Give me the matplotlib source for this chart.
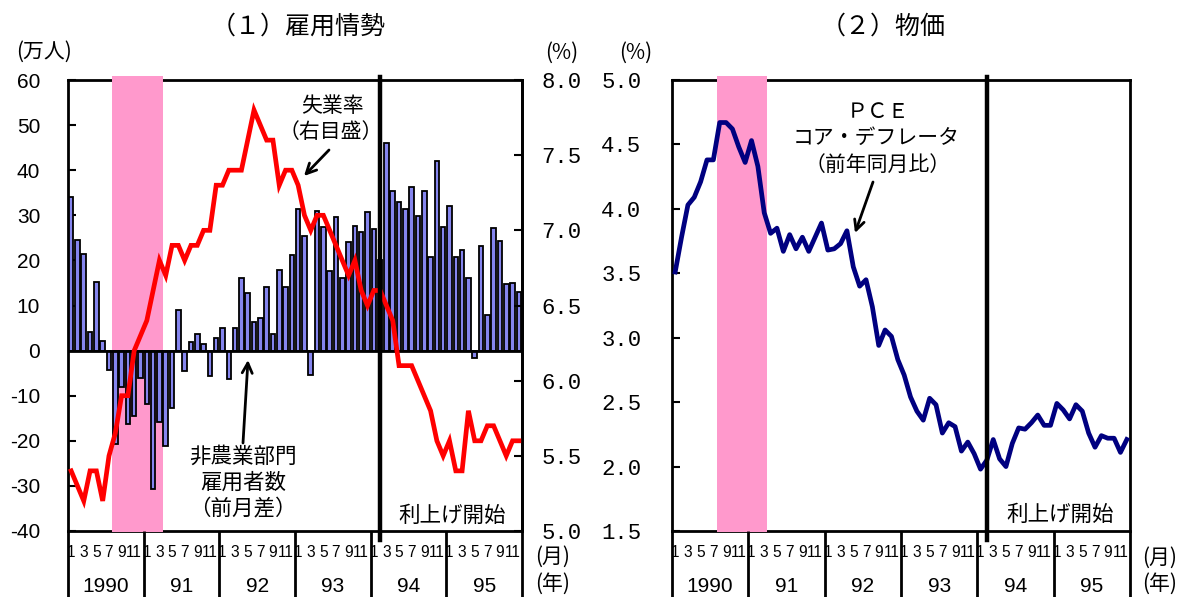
import matplotlib
matplotlib.use("Agg")
import matplotlib.pyplot as plt
from matplotlib import font_manager
from matplotlib.transforms import blended_transform_factory as btf

plt.rcParams['axes.unicode_minus'] = False
_names = {f.name for f in font_manager.fontManager.ttflist}
SANS = 'Liberation Sans' if 'Liberation Sans' in _names else 'DejaVu Sans'
MONO = 'Liberation Mono' if 'Liberation Mono' in _names else 'DejaVu Sans Mono'
JP = ['Noto Sans CJK JP', 'DejaVu Sans']

# ---------------- data ----------------
years = ['1990', '91', '92', '93', '94', '95']
month_labels = ['1', '3', '5', '7', '9', '11']

# Non-farm payroll change (10k persons), Jan 1990 - Dec 1995
payroll = [34.0, 24.5, 21.5, 4.2, 15.2, 2.1, -4.2, -20.7, -8.1, -16.3, -14.4, -6.1,
           -11.9, -30.6, -15.9, -21.1, -12.8, 9.1, -4.6, 1.8, 3.6, 1.5, -5.7, 2.7,
           5.1, -6.3, 5.1, 16.1, 12.7, 6.3, 7.3, 14.2, 3.6, 17.9, 14.2, 21.3,
           31.4, 25.5, -5.3, 31.0, 27.5, 17.6, 29.7, 16.2, 24.1, 27.7, 26.2, 30.8,
           26.9, 20.0, 46.0, 35.4, 33.0, 31.4, 36.3, 29.9, 35.4, 20.7, 42.1, 27.5,
           32.0, 20.8, 22.3, 16.0, -1.7, 23.3, 7.9, 27.2, 24.4, 14.7, 15.0, 13.1]

# Unemployment rate (%), right scale
unemployment = [5.4, 5.3, 5.2, 5.4, 5.4, 5.2, 5.5, 5.65, 5.9, 5.9, 6.2, 6.3,
                6.4, 6.6, 6.8, 6.7, 6.9, 6.9, 6.8, 6.9, 6.9, 7.0, 7.0, 7.3,
                7.3, 7.4, 7.4, 7.4, 7.6, 7.8, 7.7, 7.6, 7.6, 7.3, 7.4, 7.4,
                7.3, 7.1, 7.0, 7.1, 7.1, 7.0, 6.9, 6.8, 6.7, 6.8, 6.6, 6.5,
                6.6, 6.6, 6.5, 6.4, 6.1, 6.1, 6.1, 6.0, 5.9, 5.8, 5.6, 5.5,
                5.6, 5.4, 5.4, 5.8, 5.6, 5.6, 5.7, 5.7, 5.6, 5.5, 5.6, 5.6]

# PCE core deflator (yoy, %)
pce_core = [3.51, 3.78, 4.03, 4.09, 4.21, 4.38, 4.38, 4.67, 4.67, 4.62, 4.48, 4.36,
            4.53, 4.33, 3.97, 3.81, 3.85, 3.67, 3.80, 3.69, 3.78, 3.67, 3.78, 3.89,
            3.68, 3.69, 3.73, 3.83, 3.55, 3.40, 3.45, 3.24, 2.94, 3.06, 3.01, 2.83,
            2.71, 2.54, 2.43, 2.36, 2.53, 2.48, 2.26, 2.34, 2.31, 2.12, 2.19, 2.10,
            1.98, 2.05, 2.21, 2.06, 2.00, 2.18, 2.30, 2.29, 2.34, 2.40, 2.32, 2.32,
            2.49, 2.44, 2.37, 2.48, 2.43, 2.26, 2.15, 2.24, 2.22, 2.22, 2.11, 2.21]

months = list(range(len(payroll)))
recession = (6.5, 14.5)     # Aug 1990 - Mar 1991
rate_hike = 49              # Feb 1994

# ---------------- figure ----------------
W, H = 1180, 597
fig = plt.figure(figsize=(W / 100, H / 100), dpi=100)


def fx(x):
    return x / W


def fy(y):
    return 1 - y / H


PINK = '#FF99CC'
BAR = '#8585EE'

xticks = [12 * i + m for i in range(len(years)) for m in range(0, 12, 2)]
xticklabels = month_labels * len(years)


def common_x(ax):
    ax.set_xlim(-0.5, len(months) - 0.5)
    ax.set_xticks(xticks)
    ax.set_xticklabels(xticklabels, fontfamily=SANS, fontsize=11.2)
    ax.tick_params(axis='x', length=0, pad=10)
    tr = btf(ax.transData, ax.transAxes)
    for b in range(len(years) + 1):
        ax.plot([12 * b - 0.5] * 2, [0, -66 / 451], color='black', lw=2,
                transform=tr, clip_on=False, zorder=5, solid_capstyle='butt')
    for i, yl in enumerate(years):
        ax.text(12 * i + 5.5, -0.122, yl, transform=tr, ha='center', va='center',
                fontfamily=SANS, fontsize=15)
    span = ax.axvspan(recession[0], recession[1], ymin=-0.003, ymax=1.008,
                      color=PINK, lw=0, zorder=2.6)
    span.set_clip_on(False)
    for s in ax.spines.values():
        s.set_linewidth(2)


# ---- left panel ----
ax1 = fig.add_axes([fx(68), 66 / H, 454 / W, 451 / H])
common_x(ax1)
ax1.set_ylim(-40, 60)
ax1.set_yticks(range(-40, 61, 10))
ax1.set_yticklabels([str(v) for v in range(-40, 61, 10)], fontfamily=SANS,
                    fontsize=15)
ax1.tick_params(axis='y', direction='in', length=6, width=1.5, pad=20)
ax1.bar(months, payroll, width=0.72, color=BAR, edgecolor='black', linewidth=1.3,
        zorder=3)
ax1.axhline(0, color='black', lw=2, zorder=4)

ax1r = ax1.twinx()
ax1r.set_ylim(5.0, 8.0)
rt = [5.0, 5.5, 6.0, 6.5, 7.0, 7.5, 8.0]
ax1r.set_yticks(rt)
ax1r.set_yticklabels([f'{v:.1f}' for v in rt], fontfamily=MONO, fontsize=16)
ax1r.tick_params(axis='y', direction='in', length=6, width=1.5, pad=14)
for k in ['top', 'bottom', 'left']:
    ax1r.spines[k].set_visible(False)
ax1r.spines['right'].set_linewidth(2)
ax1r.plot(months, unemployment, color='#FF0000', lw=3.4, zorder=4,
          solid_joinstyle='miter')
ax1r.plot([rate_hike] * 2, [-0.02, 1.007], color='black', lw=3.2,
          transform=btf(ax1r.transData, ax1r.transAxes), clip_on=False, zorder=6)

# ---- right panel ----
ax2 = fig.add_axes([fx(672), 66 / H, 458 / W, 451 / H])
common_x(ax2)
ax2.set_ylim(1.5, 5.0)
pt = [1.5, 2.0, 2.5, 3.0, 3.5, 4.0, 4.5, 5.0]
ax2.set_yticks(pt)
ax2.set_yticklabels([f'{v:.1f}' for v in pt], fontfamily=MONO, fontsize=16)
ax2.tick_params(axis='y', direction='in', length=6, width=1.5, pad=22)
ax2.plot(months, pce_core, color='#000080', lw=3.4, zorder=3)
ax2.plot([rate_hike] * 2, [-0.02, 1.007], color='black', lw=3.2,
         transform=btf(ax2.transData, ax2.transAxes), clip_on=False, zorder=6)

# ---------------- texts ----------------
fig.text(fx(298), fy(27), '（１）雇用情勢', ha='center', va='center', family=JP, fontsize=18)
fig.text(fx(883), fy(27), '（２）物価', ha='center', va='center', family=JP, fontsize=18)
fig.text(fx(44), fy(52), '(万人)', ha='center', va='center', family=JP, fontsize=15)
fig.text(fx(562), fy(53), '(%)', ha='center', va='center', family=JP, fontsize=15)
fig.text(fx(636), fy(53), '(%)', ha='center', va='center', family=JP, fontsize=15)
fig.text(fx(553), fy(557), '(月)', ha='center', va='center', family=JP, fontsize=15)
fig.text(fx(553), fy(584), '(年)', ha='center', va='center', family=JP, fontsize=15)
fig.text(fx(1160), fy(558), '(月)', ha='center', va='center', family=JP, fontsize=15)
fig.text(fx(1160), fy(584), '(年)', ha='center', va='center', family=JP, fontsize=15)

fig.text(fx(332), fy(106), '失業率', ha='center', va='center', family=JP, fontsize=15)
fig.text(fx(331), fy(132), '（右目盛）', ha='center', va='center', family=JP, fontsize=15)
fig.text(fx(243), fy(457), '非農業部門', ha='center', va='center', family=JP, fontsize=15.5)
fig.text(fx(243), fy(483), '雇用者数', ha='center', va='center', family=JP, fontsize=15.5)
fig.text(fx(243), fy(509), '（前月差）', ha='center', va='center', family=JP, fontsize=15.5)
fig.text(fx(452), fy(516), '利上げ開始', ha='center', va='center', family=JP, fontsize=15.5)
fig.text(fx(1060), fy(515), '利上げ開始', ha='center', va='center', family=JP, fontsize=15.5)
fig.text(fx(878), fy(112), 'ＰＣＥ', ha='center', va='center', family=JP, fontsize=15)
fig.text(fx(876), fy(138), 'コア・デフレータ', ha='center', va='center', family=JP, fontsize=15)
fig.text(fx(878), fy(165), '（前年同月比）', ha='center', va='center', family=JP, fontsize=15)

arrow = dict(arrowstyle='->', color='black', lw=2, mutation_scale=18,
             shrinkA=0, shrinkB=0)
for (x0, y0), (x1, y1) in [((329, 150), (304, 176)),
                           ((243, 443), (248, 360)),
                           ((873, 182), (855, 233))]:
    fig.add_artist(matplotlib.patches.FancyArrowPatch(
        (fx(x0), fy(y0)), (fx(x1), fy(y1)), transform=fig.transFigure, **arrow))

fig.savefig('out.png', dpi=100)
